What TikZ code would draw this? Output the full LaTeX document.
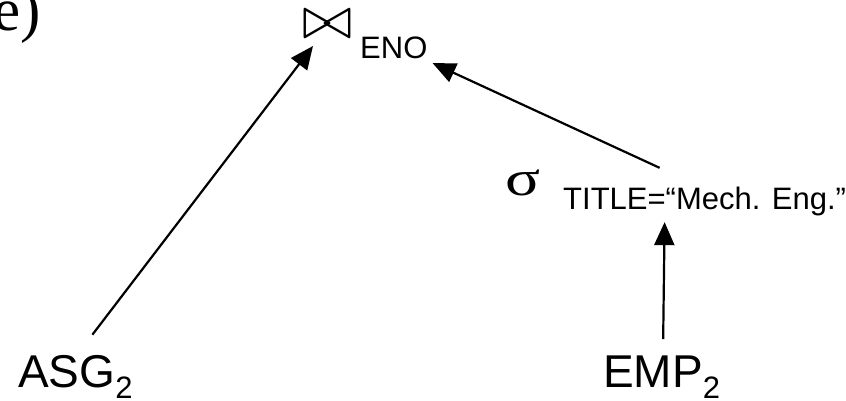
\documentclass[tikz,border=0pt]{standalone}
\usepackage{fontspec}
\setmainfont{Liberation Sans}
\newfontfamily\timesfont{Liberation Serif}
\usetikzlibrary{arrows.meta}

\tikzset{
  rel/.style = {inner sep = 0pt, font = \fontsize{46}{46}\selectfont},
  pred/.style = {inner sep = 0pt, font = \fontsize{31}{31}\selectfont},
  edge/.style = {line width = 2.2pt, -{Triangle[length = 23pt, width = 20pt]}}
}
\newcommand{\relsub}[1]{\raisebox{-11pt}{\fontsize{31}{31}\selectfont #1}}

\begin{document}
\begin{tikzpicture}[x = 1pt, y = -1pt]
    \useasboundingbox (0,0) rectangle (846,401);

    \node[anchor = base west, inner sep = 0pt, font = \timesfont\fontsize{61}{61}\selectfont] (lab) at (-7,31) {e)};
    \node[inner sep = 0pt] (join) at (327,24.5) {\scalebox{6}{$\bowtie$}};
    \node[pred, anchor = base west] (eno) at (360,59) {ENO};
    \node[anchor = base west, inner sep = 0pt, font = \timesfont\fontsize{50}{50}\selectfont] (sel) at (505,195) {\scalebox{1.3}[1]{σ}};
    \node[pred, anchor = base west] (cond) at (563,209) {TITLE=“Mech. Eng.”};
    \node[rel, anchor = base west] (asg) at (18,387) {ASG\relsub{2}};
    \node[rel, anchor = base west] (emp) at (603,387) {EMP\relsub{2}};

    \draw[edge] ([shift = {(17pt,20pt)}]asg.north) -- ([shift = {(-14pt,-21.5pt)}]join.center);
    \draw[edge] ([shift = {(-45pt,18.5pt)}]cond.north) -- ([shift = {(5pt,-3.6pt)}]eno.south east);
    \draw[edge] ([shift = {(1.5pt,16pt)}]emp.north) -- ([shift = {(-40pt,-6.5pt)}]cond.south);
\end{tikzpicture}
\end{document}
